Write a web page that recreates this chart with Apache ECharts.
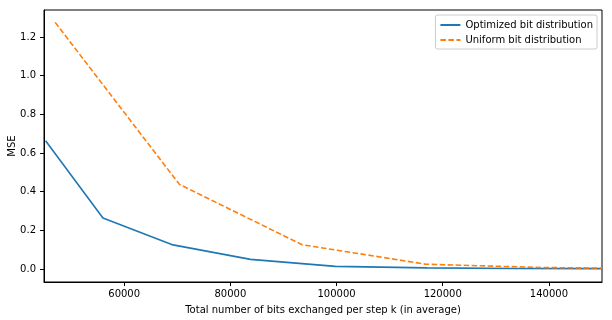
<!DOCTYPE html>
<html>
<head>
<meta charset="utf-8">
<script src="https://cdn.jsdelivr.net/npm/echarts@6/dist/echarts.min.js"></script>
<style>html,body{margin:0;padding:0;background:#fff}#c{width:612px;height:320px}</style>
</head>
<body>
<div id="c"></div>
<script>
var optimizedX = [45200, 56000, 69200, 83800, 99800, 117000, 133500, 150000];
var optimizedY = [0.664, 0.264, 0.125, 0.050, 0.014, 0.006, 0.003, 0.002];
var uniformX = [47000, 70400, 93500, 116800, 138500, 150000];
var uniformY = [1.276, 0.438, 0.126, 0.025, 0.008, 0.005];
var xTicks = [60000, 80000, 100000, 120000, 140000];
var yTicks = [0.0, 0.2, 0.4, 0.6, 0.8, 1.0, 1.2];
var seriesNames = ['Optimized bit distribution', 'Uniform bit distribution'];

function pairs(xs, ys){ return xs.map(function(x,i){ return [x, ys[i]]; }); }

var font = 'DejaVu Sans';
var chart = echarts.init(document.getElementById('c'), null, {renderer:'canvas'});
chart.setOption({
  animation: false,
  textStyle: {fontFamily: font},
  grid: {left: 44, right: 10, top: 10, bottom: 38, outerBoundsMode: 'none', containLabel: false,
    show: true, borderColor: '#000', borderWidth: 1, backgroundColor: 'transparent'},
  legend: {
    right: 15, top: 15, orient: 'vertical',
    data: seriesNames,
    borderColor: '#ccc', borderWidth: 1, borderRadius: 2,
    padding: [5, 4, 4, 4],
    itemGap: 5, itemWidth: 20, itemHeight: 10,
    itemStyle: {opacity: 0},
    textStyle: {fontFamily: font, fontSize: 10, color: '#000'},
    backgroundColor: '#fff'
  },
  xAxis: {
    type: 'value', min: 44900, max: 150000,
    name: 'Total number of bits exchanged per step k (in average)',
    nameLocation: 'middle', nameGap: 23, nameMoveOverlap: false,
    nameTextStyle: {fontFamily: font, fontSize: 10, color: '#000'},
    axisLine: {show: true, onZero: false, lineStyle: {color: '#000', width: 1}},
    axisTick: {show: true, inside: false, length: 4, lineStyle: {color: '#000'}, customValues: xTicks},
    axisLabel: {fontFamily: font, fontSize: 10, color: '#000', margin: 7, customValues: xTicks,
      formatter: function(v){ return String(v); }},
    splitLine: {show: false}
  },
  yAxis: {
    type: 'value', min: -0.067, max: 1.34,
    name: 'MSE', nameLocation: 'middle', nameGap: 27, nameMoveOverlap: false,
    nameTextStyle: {fontFamily: font, fontSize: 10, color: '#000'},
    axisLine: {show: true, onZero: false, lineStyle: {color: '#000', width: 1}},
    axisTick: {show: true, inside: false, length: 4, lineStyle: {color: '#000'}, customValues: yTicks},
    axisLabel: {fontFamily: font, fontSize: 10, color: '#000', margin: 8, customValues: yTicks,
      formatter: function(v){ return v.toFixed(1); }},
    splitLine: {show: false}
  },
  series: [
    {name: seriesNames[0], type: 'line', data: pairs(optimizedX, optimizedY), symbol: 'none',
     lineStyle: {color: '#1f77b4', width: 1.6}, itemStyle: {color: '#1f77b4'}},
    {name: seriesNames[1], type: 'line', data: pairs(uniformX, uniformY), symbol: 'none',
     lineStyle: {color: '#ff7f0e', width: 1.6, type: [5.5, 2.5]}, itemStyle: {color: '#ff7f0e'}}
  ]
});
</script>
</body>
</html>
